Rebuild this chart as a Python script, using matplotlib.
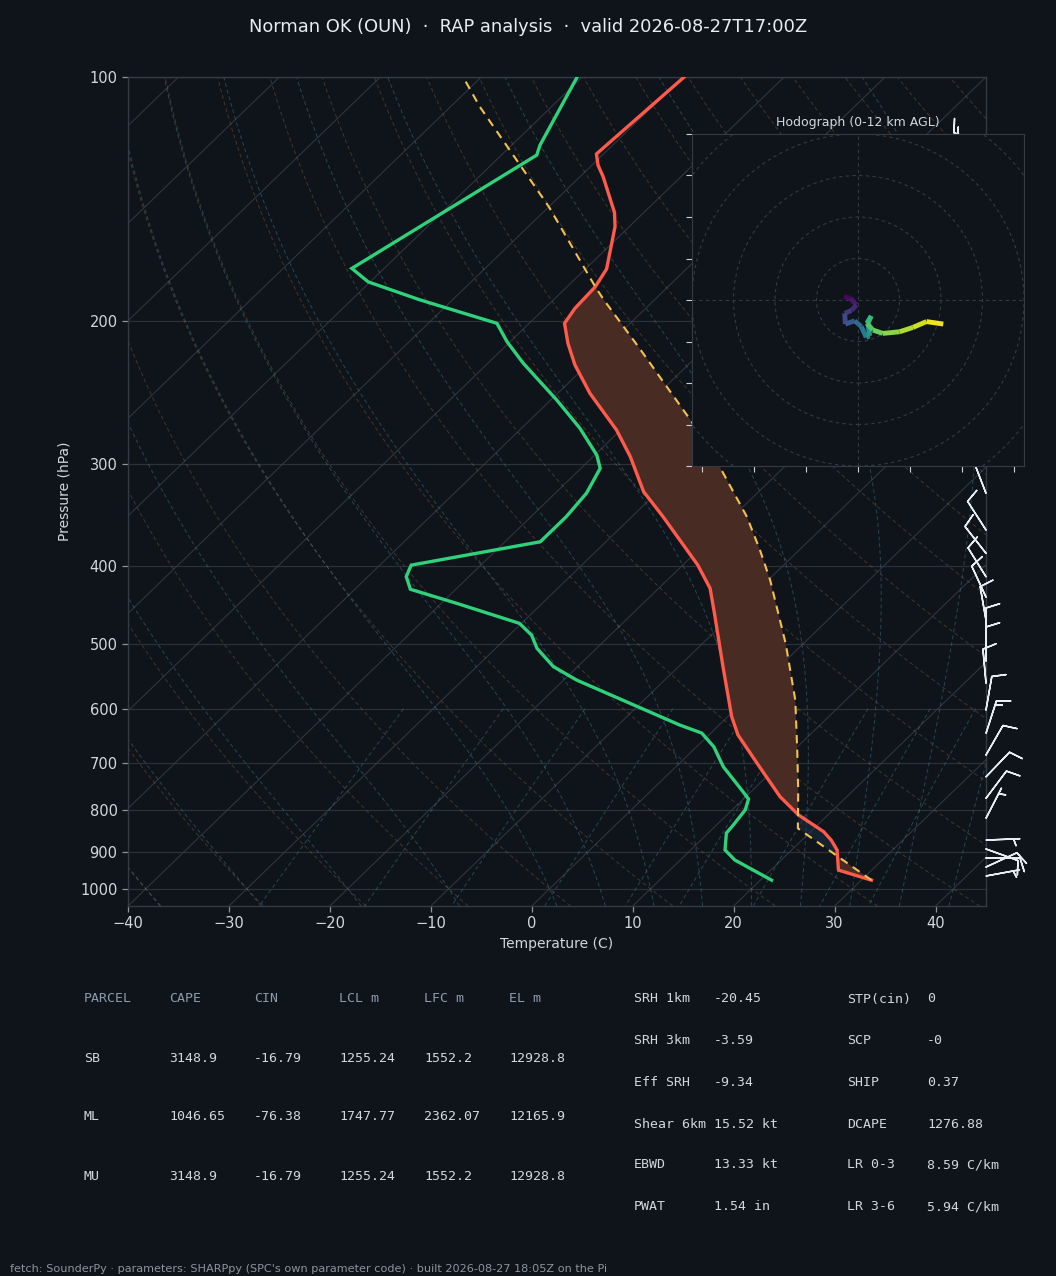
import numpy as np
import matplotlib
matplotlib.use("Agg")
import matplotlib.pyplot as plt
from matplotlib import transforms
from matplotlib.collections import LineCollection
from matplotlib.patches import Circle
from matplotlib.colors import Normalize
from matplotlib.ticker import FixedLocator, NullLocator, FixedFormatter

# ---------------- data ----------------
pres_env = [975.7, 948.3, 895.7, 870.9, 850.5, 811.1, 770.2, 710.0, 646.5, 613.8,
            532.5, 457.9, 426.5, 399.3, 348.1, 324.2, 293.6, 272.2, 245.3, 226.3,
            212.9, 201.1, 192.8, 181.3, 172.4, 152.9, 146.9, 132.7, 128.4, 124.4, 100.0]
temp_env = [31.0, 26.7, 24.5, 22.9, 21.3, 17.1, 13.4, 8.5, 2.9, 0.4,
            -5.6, -11.9, -14.9, -18.5, -26.9, -31.4, -36.3, -40.4, -46.8, -51.2,
            -54.1, -56.5, -57.0, -57.2, -57.9, -61.4, -62.9, -67.7, -69.4, -70.7, -69.9]

pres_dew = [975.7, 921.6, 895.7, 853.7, 838.5, 799.6, 775.1, 755.6, 707.4, 668.3,
            642.9, 628.4, 585.6, 553.3, 532.5, 505.6, 486.9, 471.0, 444.9, 427.6,
            412.6, 399.3, 373.7, 348.1, 325.7, 303.4, 292.2, 270.9, 250.0, 225.2,
            211.9, 201.1, 188.2, 178.8, 172.1, 124.8, 121.3, 100.0]
dewpt = [21.1, 15.4, 13.4, 11.8, 11.7, 11.3, 10.5, 8.9, 4.7, 1.7,
         -0.9, -3.9, -12.1, -18.7, -22.4, -25.9, -27.8, -30.2, -38.5, -44.5,
         -46.2, -46.9, -36.5, -36.5, -36.9, -38.1, -39.8, -44.2, -49.4, -56.5,
         -60.3, -63.2, -73.2, -80.2, -83.2, -76.5, -77.2, -80.5]

pres_parcel = [975.7, 842.4, 755.6, 674.5, 585.6, 499.4, 416.6, 382.5, 348.1, 304.9,
               265.9, 231.7, 215.9, 188.2, 181.3, 144.5, 108.8, 100.0]
temp_parcel = [31.0, 18.4, 14.5, 10.3, 5.0, -1.7, -9.8, -13.9, -18.6, -25.9,
               -33.8, -42.2, -46.5, -55.0, -57.2, -70.0, -87.1, -91.8]

barb_pres = [121, 150, 180, 215, 250, 285, 325.7, 361.4, 386.1, 412.6, 437.1, 466.8,
             496.6, 524.1, 557.9, 602.2, 643.4, 684.2, 727.8, 773.6, 818.8, 870.9,
             893.2, 916.3, 940.1, 964.3]
barb_u = [14.0, 34.0, 28.0, 20.0, 13.0, 8.0, 5.4, 5.4, 6.2, 5.3, 4.2, 1.7,
          0.0, 0.0, 0.9, -1.7, -4.6, -5.0, -6.9, -6.0, -2.3, -5.0,
          -9.4, -10.0, -9.1, -4.9]
barb_v = [-5.0, -14.0, -16.0, -17.0, -16.0, -15.0, -14.0, -8.4, -7.9, -8.5, -9.1, -9.8,
          -10.0, -10.0, -10.0, -9.8, -14.3, -8.7, -7.2, -8.0, -4.5, -0.2,
          3.4, 0.0, -4.2, -0.9]

hodo_u = [-6.7, -3.7, -0.8, -3.2, -6.4, -6.1, -1.6, 1.6, 4.0, 5.6, 4.8, 6.4, 4.3,
          7.2, 12.0, 20.1, 26.5, 33.0, 41.1]
hodo_v = [1.6, 0.8, -2.4, -5.1, -6.4, -11.6, -10.0, -12.8, -18.0, -17.3, -11.2, -7.7,
          -11.2, -14.5, -16.1, -15.3, -13.2, -10.4, -11.6]
hodo_hgt = [0.0, 0.5, 1.0, 1.6, 2.2, 3.0, 3.6, 4.4, 5.4, 6.0, 7.0, 7.8, 8.4,
            9.0, 9.6, 10.2, 10.8, 11.4, 12.0]

pressure_ticks = [100, 200, 300, 400, 500, 600, 700, 800, 900, 1000]
temp_ticks = [-40, -30, -20, -10, 0, 10, 20, 30, 40]

table_header = ["PARCEL", "CAPE", "CIN", "LCL m", "LFC m", "EL m"]
table_rows = [["SB", "3148.9", "-16.79", "1255.24", "1552.2", "12928.8"],
              ["ML", "1046.65", "-76.38", "1747.77", "2362.07", "12165.9"],
              ["MU", "3148.9", "-16.79", "1255.24", "1552.2", "12928.8"]]
param_left = [("SRH 1km", "-20.45"), ("SRH 3km", "-3.59"), ("Eff SRH", "-9.34"),
              ("Shear 6km", "15.52 kt"), ("EBWD", "13.33 kt"), ("PWAT", "1.54 in")]
param_right = [("STP(cin)", "0"), ("SCP", "-0"), ("SHIP", "0.37"),
               ("DCAPE", "1276.88"), ("LR 0-3", "8.59 C/km"), ("LR 3-6", "5.94 C/km")]

title = "Norman OK (OUN)  \u00b7  RAP analysis  \u00b7  valid 2026-08-27T17:00Z"
footer = ("fetch: SounderPy \u00b7 parameters: SHARPpy (SPC's own parameter code) "
          "\u00b7 built 2026-08-27 18:05Z on the Pi")

# ---------------- style ----------------
BG = "#0f141b"
GRID = "#2a313a"
SPINE = "#343b45"
TXT = "#d0d7de"
SUB = "#8b949e"
HEAD = "#8d9aab"
RED = "#ff5a4a"
GREEN = "#2fd27a"
YELLOW = "#f2c14e"
FILL = "#482c24"

W, H = 1056, 1276
fig = plt.figure(figsize=(W / 100, H / 100), dpi=100, facecolor=BG)

def fx(px):
    return px / W

def fy(py):
    return 1 - py / H

ax = fig.add_axes([fx(128), fy(906), fx(986) - fx(128), fy(77) - fy(906)])
ax.set_facecolor(BG)
ax.set_yscale("log")
ax.set_xlim(-40, 45)
ax.set_ylim(1050, 100)
ax.set_autoscale_on(False)
skew = ax.transScale + (ax.transLimits + transforms.Affine2D().skew_deg(45, 0)) + ax.transAxes

# --- background reference lines ---
plev = np.geomspace(1050, 100, 80)
iso = [np.array([[t, 1050.0], [t, 100.0]]) for t in range(-130, 50, 10)]
ax.add_collection(LineCollection(iso, colors="#3a414b", linewidths=0.8, alpha=0.75,
                                 transform=skew, zorder=1))

dry = []
for th in np.arange(-40, 250, 10):
    tt = (th + 273.15) * (plev / 1000.0) ** 0.2857 - 273.15
    dry.append(np.column_stack([tt, plev]))
ax.add_collection(LineCollection(dry, colors="#b27a3c", linewidths=0.7, alpha=0.33,
                                 linestyles=(0, (4, 3)), transform=skew, zorder=1))

def es(T):
    return 6.112 * np.exp(17.67 * (T - 273.15) / (T - 29.65))

def dtdlnp(T, p):
    Rd, Cp, Lv, eps = 287.04, 1005.7, 2.501e6, 0.622
    e = es(T)
    rs = eps * e / (p - e)
    return (Rd * T + Lv * rs) / (Cp + Lv * Lv * rs * eps / (Rd * T * T))

def integrate(T0, p_from, p_to, n):
    lp = np.linspace(np.log(p_from), np.log(p_to), n)
    out = [T0.copy()]
    T = T0.copy()
    for i in range(n - 1):
        h = lp[i + 1] - lp[i]
        p0 = np.exp(lp[i]); pm = np.exp(lp[i] + h / 2); p1 = np.exp(lp[i + 1])
        k1 = dtdlnp(T, p0)
        k2 = dtdlnp(T + h / 2 * k1, pm)
        k3 = dtdlnp(T + h / 2 * k2, pm)
        k4 = dtdlnp(T + h * k3, p1)
        T = T + h / 6 * (k1 + 2 * k2 + 2 * k3 + k4)
        out.append(T.copy())
    return np.exp(lp), np.array(out)

t0s = np.concatenate([np.arange(-40, 0, 10), np.arange(0, 46, 5)]).astype(float) + 273.15
pu, tu = integrate(t0s, 1000.0, 100.0, 90)
pd_, td_ = integrate(t0s, 1000.0, 1050.0, 6)
moist = []
for k in range(len(t0s)):
    pp = np.concatenate([pd_[::-1], pu[1:]])
    tt = np.concatenate([td_[::-1, k], tu[1:, k]]) - 273.15
    moist.append(np.column_stack([tt, pp]))
ax.add_collection(LineCollection(moist, colors="#3f8596", linewidths=0.7, alpha=0.45,
                                 linestyles=(0, (4, 3)), transform=skew, zorder=1))

mix = []
pm_ = np.linspace(600, 1050, 30)
for w in [0.0004, 0.001, 0.002, 0.004, 0.007, 0.01, 0.016, 0.024, 0.032]:
    e = w * pm_ / (0.622 + w)
    lnr = np.log(e / 6.112)
    td = 243.5 * lnr / (17.67 - lnr)
    mix.append(np.column_stack([td, pm_]))
ax.add_collection(LineCollection(mix, colors="#3f8596", linewidths=0.7, alpha=0.45,
                                 linestyles=(0, (4, 3)), transform=skew, zorder=1))

# horizontal grid
ax.yaxis.set_major_locator(FixedLocator(pressure_ticks))
ax.yaxis.set_major_formatter(FixedFormatter([str(p) for p in pressure_ticks]))
ax.yaxis.set_minor_locator(NullLocator())
ax.set_xticks(temp_ticks)
ax.grid(axis="y", color=GRID, linewidth=0.9, zorder=1)
ax.set_axisbelow(True)

# --- CAPE / CIN shading ---
lp_fine = np.linspace(np.log(975.7), np.log(100.0), 600)
te_f = np.interp(-lp_fine, -np.log(pres_env), temp_env)
tp_f = np.interp(-lp_fine, -np.log(pres_parcel), temp_parcel)
pf = np.exp(lp_fine)
ax.fill_betweenx(pf, te_f, tp_f, where=tp_f >= te_f, interpolate=True,
                 facecolor=FILL, edgecolor="none", transform=skew, zorder=2)
low = pf > 800
ax.fill_betweenx(pf, te_f, tp_f, where=(tp_f < te_f) & low, interpolate=True,
                 facecolor="#1b3550", alpha=0.4, edgecolor="none", transform=skew, zorder=2)

# --- profiles ---
ax.plot(temp_env, pres_env, color=RED, lw=2.4, transform=skew, zorder=4,
        solid_joinstyle="miter")
ax.plot(dewpt, pres_dew, color=GREEN, lw=2.4, transform=skew, zorder=4,
        solid_joinstyle="miter")
ax.plot(temp_parcel, pres_parcel, color=YELLOW, lw=1.5, ls=(0, (4, 3)),
        transform=skew, zorder=4)

# --- barbs ---
btrans = transforms.blended_transform_factory(ax.transAxes, ax.transData)
ax.barbs(np.ones(len(barb_pres)), barb_pres, barb_u, barb_v, transform=btrans,
         length=7, color="#e6edf3", linewidth=1.1, clip_on=False, zorder=5)

# --- axes styling ---
for s in ax.spines.values():
    s.set_color(SPINE)
    s.set_linewidth(1.0)
ax.tick_params(colors=SUB, labelcolor=TXT, labelsize=10.5, length=4, width=0.9)
ax.set_xlabel("Temperature (C)", color=TXT, fontsize=10, labelpad=4)
ax.set_ylabel("Pressure (hPa)", color=TXT, fontsize=10, labelpad=6)

# --- hodograph ---
hx = fig.add_axes([fx(692), fy(466), fx(1024) - fx(692), fy(134) - fy(466)])
hx.set_facecolor(BG)
hx.set_xlim(-80, 80)
hx.set_ylim(-80, 80)
for r in [20, 40, 60, 80, 100]:
    hx.add_patch(Circle((0, 0), r, fill=False, ls=(0, (3, 3)), lw=0.8,
                        color="#323a45", zorder=1))
hx.axhline(0, color="#323a45", lw=0.8, ls=(0, (3, 3)), zorder=1)
hx.axvline(0, color="#323a45", lw=0.8, ls=(0, (3, 3)), zorder=1)
pts = np.column_stack([hodo_u, hodo_v])
segs = np.stack([pts[:-1], pts[1:]], axis=1)
hmid = 0.5 * (np.array(hodo_hgt[:-1]) + np.array(hodo_hgt[1:]))
lc = LineCollection(segs, cmap="viridis", norm=Normalize(0, 12), linewidths=3.5,
                    capstyle="butt", zorder=3)
lc.set_array(hmid)
hx.add_collection(lc)
hx.set_xticks(np.arange(-75, 76, 25))
hx.set_yticks(np.arange(-80, 81, 20))
hx.tick_params(labelbottom=False, labelleft=False, length=4, color="#c9d1d9", width=0.8)
for s in hx.spines.values():
    s.set_color(SPINE)
hx.set_title("Hodograph (0-12 km AGL)", color=TXT, fontsize=9, pad=6)

# --- title / tables / footer ---
fig.text(0.5, fy(27), title, ha="center", va="center", color="#e6edf3", fontsize=12.9)

mono = "DejaVu Sans Mono"
cols = [84, 169, 254, 339, 424, 509]
for x, h in zip(cols, table_header):
    fig.text(fx(x), fy(999), h, family=mono, fontsize=9.5, color=HEAD, va="center")
for r, row in enumerate(table_rows):
    for x, v in zip(cols, row):
        fig.text(fx(x), fy(1058 + 59 * r), v, family=mono, fontsize=9.5, color=TXT,
                 va="center")
prow = [999, 1041, 1082, 1124, 1165, 1207]
for y, (k, v) in zip(prow, param_left):
    fig.text(fx(634), fy(y), k, family=mono, fontsize=9.5, color=TXT, va="center")
    fig.text(fx(714), fy(y), v, family=mono, fontsize=9.5, color=TXT, va="center")
for y, (k, v) in zip(prow, param_right):
    fig.text(fx(847), fy(y), k, family=mono, fontsize=9.5, color=TXT, va="center")
    fig.text(fx(927), fy(y), v, family=mono, fontsize=9.5, color=TXT, va="center")

fig.text(fx(10), fy(1269), footer, fontsize=8.15, color=SUB, va="center", ha="left")

fig.savefig("out.png", dpi=100, facecolor=BG)
